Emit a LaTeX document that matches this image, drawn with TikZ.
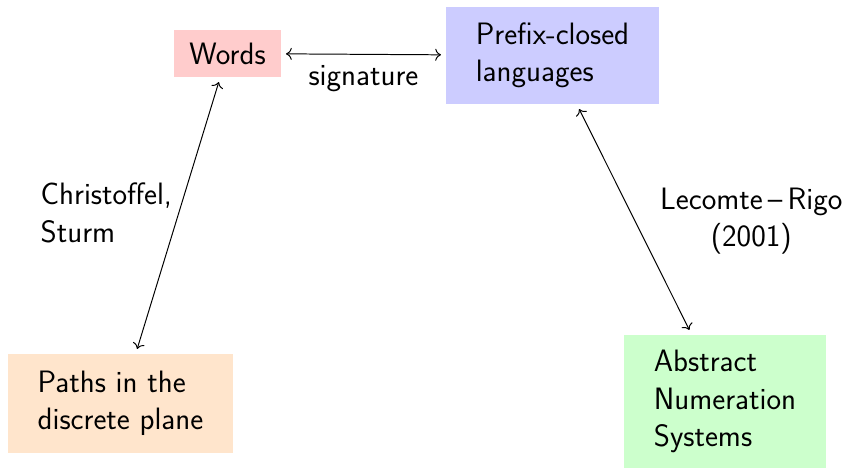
\documentclass[tikz,border=0pt]{standalone}
\usepackage{tikz}
\usetikzlibrary{arrows.meta}

\begin{document}
\begin{tikzpicture}[x=0.025cm, y=-0.025cm, font=\sffamily\fontsize{22}{26.5}\selectfont,
    box/.style={align=left, inner sep=0pt, outer sep=0.125cm},
    link/.style={{To[scale=1.3]}-{To[scale=1.3]}, line width=0.7pt}]
\useasboundingbox (0,0) rectangle (844,469);

\node[box, fill=red!20, minimum width=2.675cm, minimum height=1.175cm] (W) at (227.5,53.5) {Words};
\node[box, fill=blue!20, minimum width=5.325cm, minimum height=2.425cm] (P) at (552.5,55.5) {Prefix-closed\\languages};
\node[box, fill=orange!20, minimum width=5.625cm, minimum height=2.475cm] (D) at (120.5,403.5) {Paths in the\\discrete plane};
\node[box, fill=green!20, minimum width=5.05cm, minimum height=3.325cm] (A) at (725,401.5) {Abstract\\Numeration\\Systems};

\draw[link] (W) -- (P) node[below, midway, yshift=-0.15cm] {signature};
\draw[link] (W) -- (D) node[left, align=left, pos=0.46, xshift=-0.1cm, yshift=-0.2cm] {Christoffel,\\Sturm};
\draw[link] (P) -- (A) node[right, align=center, pos=0.47, xshift=0.6cm, yshift=-0.2cm] {Lecomte\,--\,Rigo\\(2001)};
\end{tikzpicture}
\end{document}
